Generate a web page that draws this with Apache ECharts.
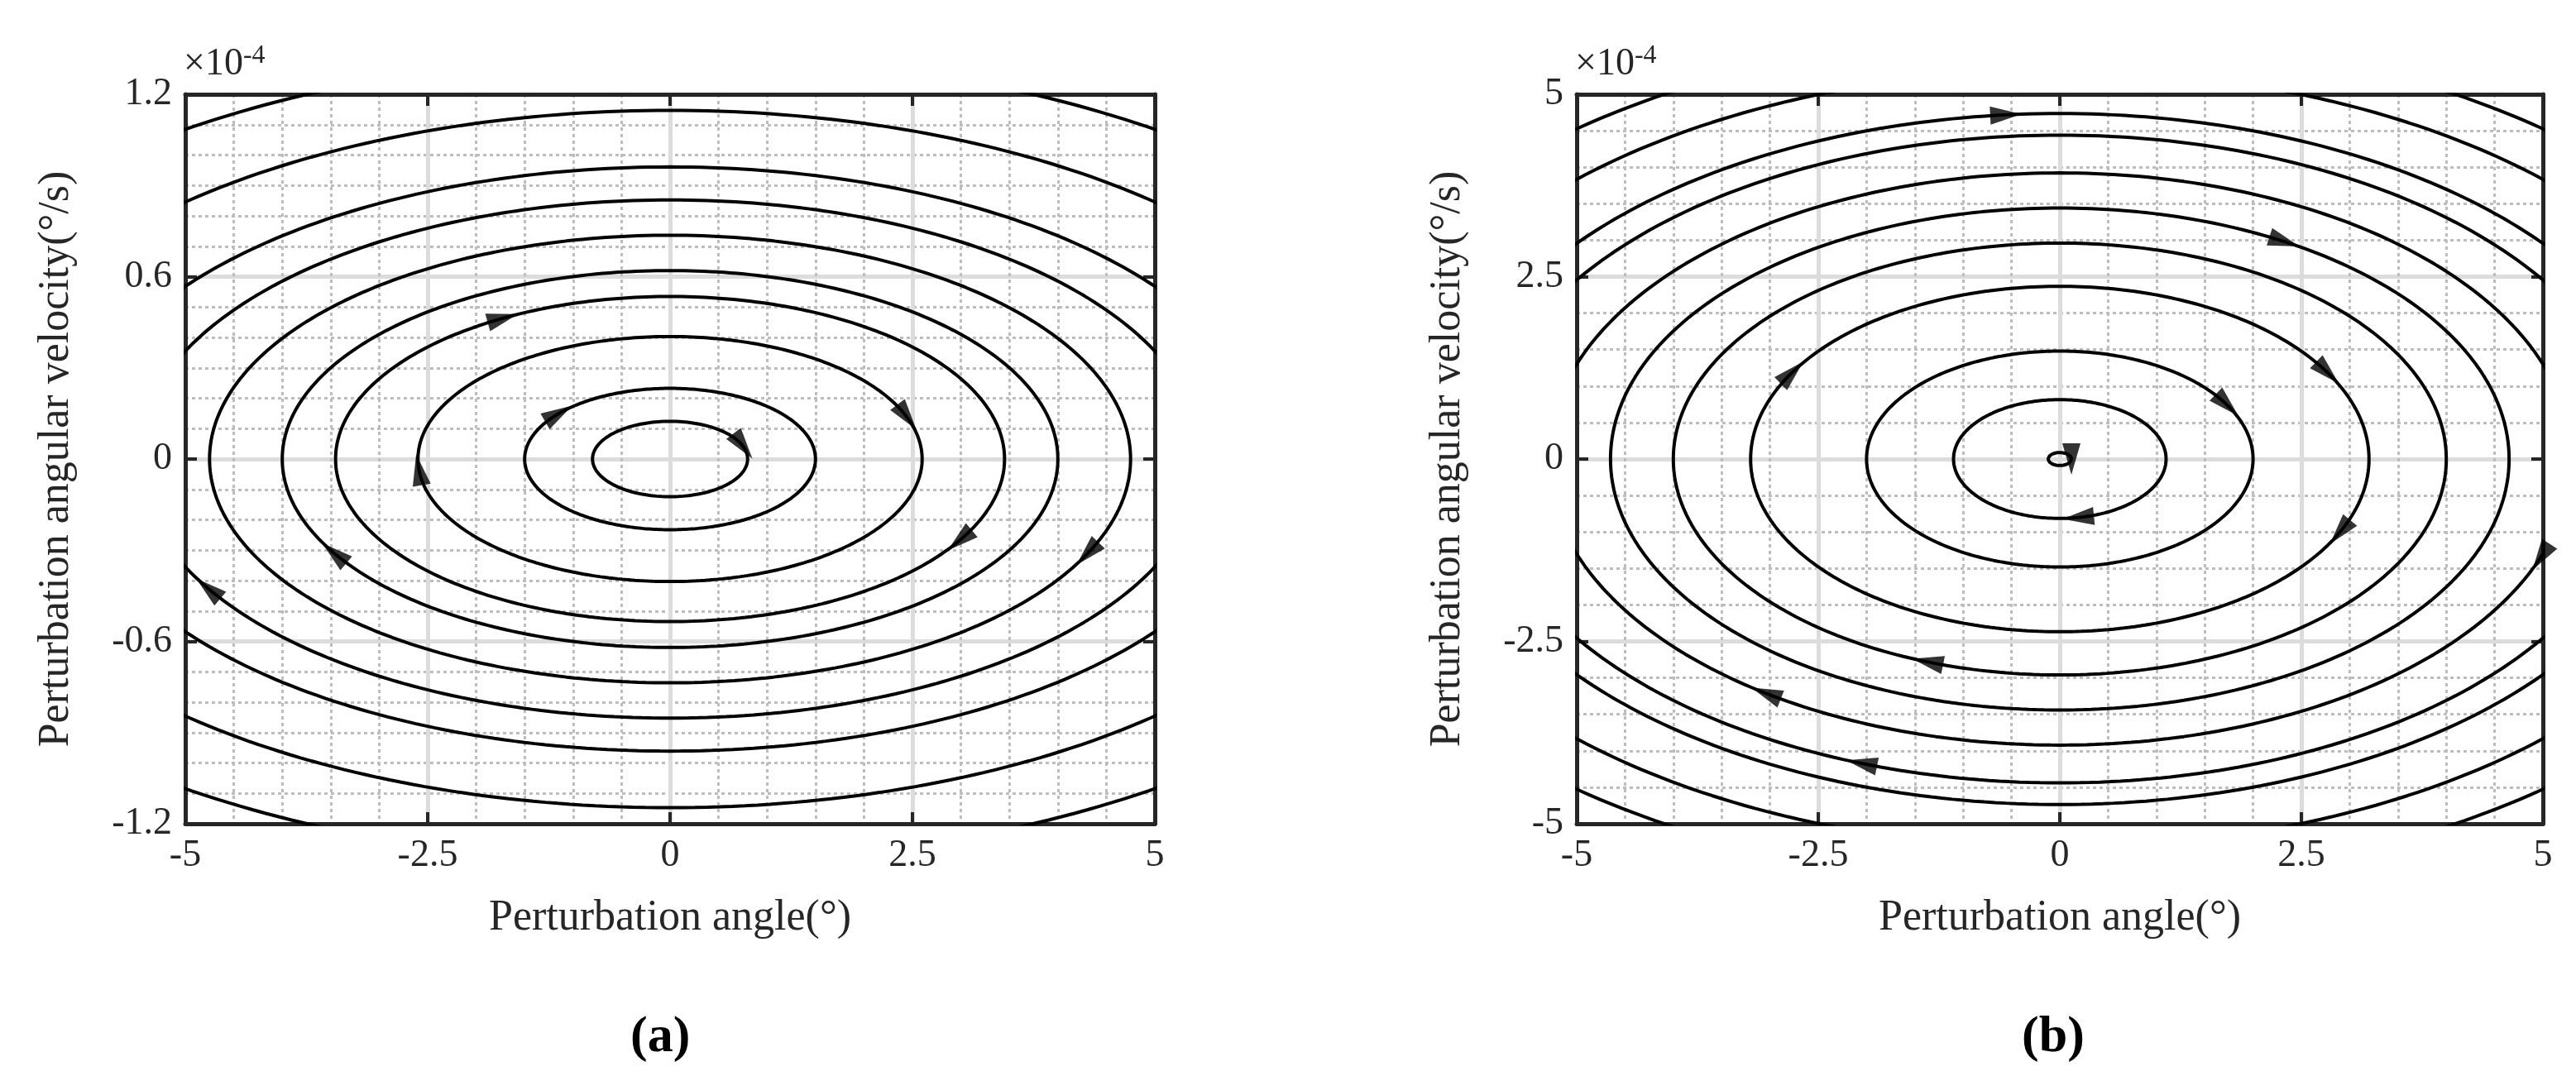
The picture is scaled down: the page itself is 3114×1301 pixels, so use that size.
<!DOCTYPE html>
<html><head><meta charset="utf-8">
<script src="https://cdn.jsdelivr.net/npm/echarts@6/dist/echarts.min.js"></script>
<style>html,body{margin:0;background:#fff}#c{width:3114px;height:1301px}</style>
</head><body><div id="c"></div>
<script>
// Panel (a): x semi-axes (°) of the streamline ellipses, y/x ratio in 1e-4 (°/s) per °
const semiA = [0.8, 1.5, 2.6, 3.45, 4.0, 4.75, 5.5, 6.2, 7.4, 8.6, 9.8];
const ratioA = 0.155;
// arrow positions (parameter angle, degrees) per ellipse in panel (a)
const arrowsA = [[20], [140], [185, 20], [120, -30], [-150], [-25], [-150, -20], [160, -15], [30, -20], [40], [-60]];
// Panel (b)
const semiB = [0.12, 1.1, 2.0, 3.2, 4.0, 4.65, 5.3, 6.0, 6.4, 7.2, 7.9, 8.6];
const ratioB = 0.74;
const arrowsB = [[0], [-80], [30], [150, 30, -25], [-110], [60], [-125, -20], [-110, 15], [95, -10], [140, -150], [60, 150], [100, -60]];
const xTicks = [-5, -2.5, 0, 2.5, 5];
const yTicksA = [-1.2, -0.6, 0, 0.6, 1.2];
const yTicksB = [-5, -2.5, 0, 2.5, 5];

const FONT = 'Liberation Serif';
const chart = echarts.init(document.getElementById('c'));
const grids = [
  {left: 224, top: 114, width: 1172, height: 882},
  {left: 1906, top: 114, width: 1168, height: 882}
];
function ellipse(a, k) {
  const pts = [];
  for (let i = 0; i <= 360; i++) { const t = i * Math.PI / 180; pts.push([a * Math.cos(t), k * a * Math.sin(t)]); }
  return pts;
}
function arrows(semi, k, list, g, yr) {
  const sx = g.width / 10, sy = g.height / yr;
  const out = [];
  semi.forEach((a, i) => (list[i] || []).forEach(d => {
    const t = d * Math.PI / 180;
    const dx = a * Math.sin(t) * sx, dy = -k * a * Math.cos(t) * sy;
    const ang = Math.atan2(dy, dx) * 180 / Math.PI;
    out.push({value: [a * Math.cos(t), k * a * Math.sin(t)], symbolRotate: ang - 90});
  }));
  return out;
}
const series = [];
[[semiA, ratioA, arrowsA, 2.4], [semiB, ratioB, arrowsB, 10]].forEach(([semi, k, arr, yr], gi) => {
  semi.forEach(a => series.push({type: 'line', xAxisIndex: gi, yAxisIndex: gi, data: ellipse(a, k), showSymbol: false, smooth: false, lineStyle: {color: '#000', width: 4}, silent: true}));
  series.push({type: 'scatter', xAxisIndex: gi, yAxisIndex: gi, symbol: 'triangle', symbolSize: [22, 38], itemStyle: {color: '#000'}, data: arrows(semi, k, arr, grids[gi], yr), clip: true});
});
function xAxis(gi) {
  return {gridIndex: gi, type: 'value', min: -5, max: 5, interval: 2.5,
    name: 'Perturbation angle(°)', nameLocation: 'middle', nameGap: 88, nameTextStyle: {fontFamily: FONT, fontSize: 52, color: '#262626'},
    axisLine: {onZero: false, lineStyle: {color: '#262626', width: 5}},
    axisTick: {inside: true, length: 14, lineStyle: {color: '#262626', width: 4}},
    axisLabel: {fontFamily: FONT, fontSize: 46, color: '#262626', margin: 16, formatter: v => String(v)},
    splitLine: {show: true, lineStyle: {color: '#dcdcdc', width: 5}},
    minorTick: {show: false, splitNumber: 5}, minorSplitLine: {show: true, lineStyle: {color: '#bdbdbd', width: 3, type: [4, 4]}}};
}
function yAxis(gi, min, max, interval, split) {
  return {gridIndex: gi, type: 'value', min, max, interval,
    name: 'Perturbation angular velocity(°/s)', nameLocation: 'middle', nameGap: 130, nameTextStyle: {fontFamily: FONT, fontSize: 52, color: '#262626'},
    axisLine: {onZero: false, lineStyle: {color: '#262626', width: 5}},
    axisTick: {inside: true, length: 14, lineStyle: {color: '#262626', width: 4}},
    axisLabel: {fontFamily: FONT, fontSize: 46, color: '#262626', margin: 16, formatter: v => String(v)},
    splitLine: {show: true, lineStyle: {color: '#dcdcdc', width: 5}},
    minorTick: {show: false, splitNumber: split}, minorSplitLine: {show: true, lineStyle: {color: '#bdbdbd', width: 3, type: [4, 4]}}};
}
function mirror(gi, pos, isX) {
  const ax = {gridIndex: gi, type: 'value', position: pos, axisLine: {onZero: false, lineStyle: {color: '#262626', width: 5}},
    axisTick: {inside: true, length: 14, lineStyle: {color: '#262626', width: 4}}, axisLabel: {show: false}, splitLine: {show: false}};
  if (isX) Object.assign(ax, {min: -5, max: 5, interval: 2.5});
  else if (gi === 0) Object.assign(ax, {min: -1.2, max: 1.2, interval: 0.6});
  else Object.assign(ax, {min: -5, max: 5, interval: 2.5});
  return ax;
}
const txt = (x, y, t, size, bold) => ({type: 'text', left: x, top: y, style: {text: t, font: (bold ? 'bold ' : '') + size + 'px "' + FONT + '"', fill: '#000'}});
const expo = {b: {fontFamily: FONT, fontSize: 46, fill: '#262626'}, s: {fontFamily: FONT, fontSize: 32, fill: '#262626', verticalAlign: 'top', padding: [0, 0, 20, 0]}};
chart.setOption({
  animation: false,
  grid: grids,
  xAxis: [xAxis(0), xAxis(1), mirror(0, 'top', true), mirror(1, 'top', true)],
  yAxis: [yAxis(0, -1.2, 1.2, 0.6, 6), yAxis(1, -5, 5, 2.5, 5), mirror(0, 'right', false), mirror(1, 'right', false)],
  series,
  graphic: [
    {type: 'text', left: 222, top: 52, style: {rich: expo, text: '{b|×10}{s|-4}'}},
    {type: 'text', left: 1904, top: 52, style: {rich: expo, text: '{b|×10}{s|-4}'}},
    txt(762, 1224, '(a)', 62, true),
    txt(2444, 1224, '(b)', 62, true)
  ]
});
</script></body></html>
